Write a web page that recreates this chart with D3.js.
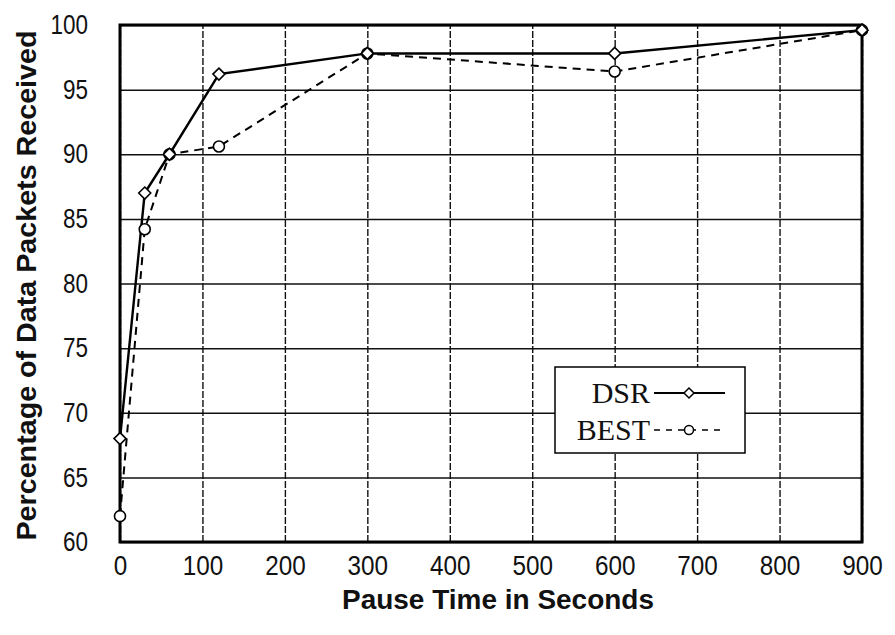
<!DOCTYPE html>
<html><head><meta charset="utf-8">
<script src="https://cdn.jsdelivr.net/npm/d3@7"></script>
<style>body{margin:0;background:#fff;} svg{display:block;}</style>
</head><body>
<svg id="c" width="895" height="635"></svg>
<script>
const pauseTimes = [0, 30, 60, 120, 300, 600, 900];
const dsrValues  = [68, 87, 90, 96.2, 97.8, 97.8, 99.6];
const bestValues = [62, 84.2, 90, 90.6, 97.8, 96.4, 99.6];
const xTicks = [0, 100, 200, 300, 400, 500, 600, 700, 800, 900];
const yTicks = [60, 65, 70, 75, 80, 85, 90, 95, 100];
const seriesNames = ["DSR", "BEST"];
const xTitle = "Pause Time in Seconds";
const yTitle = "Percentage of Data Packets Received";

const svg = d3.select("#c");
const L = 120, R = 862, T = 25, B = 542;
const x = d3.scaleLinear().domain([0, 900]).range([L, R]);
const y = d3.scaleLinear().domain([60, 100]).range([B, T]);
const tickFont = "'Liberation Sans', Arial, sans-serif";

// vertical grid (dashed)
const gx = svg.append("g").attr("transform", `translate(0,${B})`)
  .call(d3.axisBottom(x).tickValues(xTicks).tickSize(-(B - T)).tickPadding(13));
gx.select(".domain").remove();
gx.selectAll("line").attr("stroke", "#111").attr("stroke-width", 1.4).attr("stroke-dasharray", "7,2");
gx.selectAll("text").attr("font-family", tickFont).attr("font-size", 28).attr("fill", "#111")
  .attr("textLength", d => String(d).length * 13.5).attr("lengthAdjust", "spacingAndGlyphs");

// horizontal grid (solid)
const gy = svg.append("g").attr("transform", `translate(${L},0)`)
  .call(d3.axisLeft(y).tickValues(yTicks).tickSize(-(R - L)).tickPadding(32));
gy.select(".domain").remove();
gy.selectAll("line").attr("stroke", "#111").attr("stroke-width", 1.5);
gy.selectAll("text").attr("font-family", tickFont).attr("font-size", 27).attr("fill", "#111")
  .attr("textLength", d => String(d).length * 12.5).attr("lengthAdjust", "spacingAndGlyphs");

// frame
svg.append("rect").attr("x", L).attr("y", T).attr("width", R - L).attr("height", B - T)
  .attr("fill", "none").attr("stroke", "#000").attr("stroke-width", 3);

const line = d3.line().x(d => x(d[0])).y(d => y(d[1]));
const dsrPts = pauseTimes.map((t, i) => [t, dsrValues[i]]);
const bestPts = pauseTimes.map((t, i) => [t, bestValues[i]]);

svg.append("path").datum(bestPts).attr("d", line).attr("fill", "none")
  .attr("stroke", "#000").attr("stroke-width", 2).attr("stroke-dasharray", "8,6");
svg.append("path").datum(dsrPts).attr("d", line).attr("fill", "none")
  .attr("stroke", "#000").attr("stroke-width", 2.4);

const diamond = (cx, cy, s) => `M${cx},${cy - s}L${cx + s},${cy}L${cx},${cy + s}L${cx - s},${cy}Z`;

svg.append("g").selectAll("circle").data(bestPts).join("circle")
  .attr("cx", d => x(d[0])).attr("cy", d => y(d[1])).attr("r", 5.5)
  .attr("fill", "#fff").attr("stroke", "#000").attr("stroke-width", 1.6);
svg.append("g").selectAll("path").data(dsrPts).join("path")
  .attr("d", d => diamond(x(d[0]), y(d[1]), 6))
  .attr("fill", "#fff").attr("stroke", "#000").attr("stroke-width", 1.6);

// legend
const lg = svg.append("g");
lg.append("rect").attr("x", 555).attr("y", 367).attr("width", 190).attr("height", 86)
  .attr("fill", "#fff").attr("stroke", "#000").attr("stroke-width", 1.5);
const legY = [393, 430];
seriesNames.forEach((name, i) => {
  lg.append("text").attr("x", 650).attr("y", legY[i] + 10).attr("text-anchor", "end")
    .attr("font-family", "'Liberation Serif', 'Times New Roman', serif").attr("font-size", 30)
    .attr("fill", "#111").text(name);
  lg.append("line").attr("x1", 654).attr("x2", 725).attr("y1", legY[i]).attr("y2", legY[i])
    .attr("stroke", "#000").attr("stroke-width", i === 0 ? 2.2 : 1.6)
    .attr("stroke-dasharray", i === 0 ? null : "6,6");
  if (i === 0) {
    lg.append("path").attr("d", diamond(689, legY[i], 5)).attr("fill", "#fff").attr("stroke", "#000").attr("stroke-width", 1.5);
  } else {
    lg.append("circle").attr("cx", 689).attr("cy", legY[i]).attr("r", 4.5).attr("fill", "#fff").attr("stroke", "#000").attr("stroke-width", 1.5);
  }
});

// axis titles
svg.append("text").attr("x", (L + R) / 2 + 7).attr("y", 609).attr("text-anchor", "middle")
  .attr("font-family", "'Liberation Sans', Arial, sans-serif").attr("font-weight", "bold")
  .attr("font-size", 28).attr("fill", "#111")
  .attr("textLength", 312).attr("lengthAdjust", "spacingAndGlyphs").text(xTitle);
svg.append("text").attr("transform", `translate(36,${(T + B) / 2 + 2}) rotate(-90)`)
  .attr("text-anchor", "middle")
  .attr("font-family", "'Liberation Sans', Arial, sans-serif").attr("font-weight", "bold")
  .attr("font-size", 28).attr("fill", "#111")
  .attr("textLength", 510).attr("lengthAdjust", "spacingAndGlyphs").text(yTitle);
</script>
</body></html>
